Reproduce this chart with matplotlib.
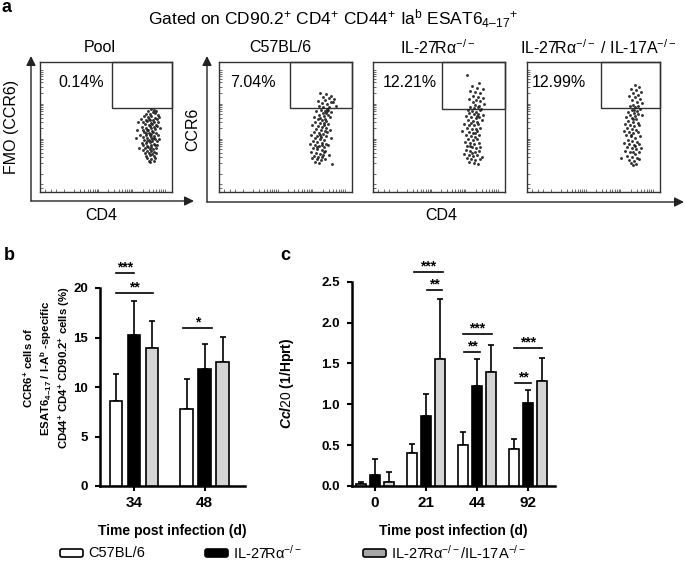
import numpy as np
import matplotlib
matplotlib.use("Agg")
import matplotlib.pyplot as plt
from matplotlib.patches import Rectangle, FancyBboxPatch

plt.rcParams['font.family'] = ['Liberation Sans', 'DejaVu Sans']
plt.rcParams['mathtext.fontset'] = 'custom'
plt.rcParams['mathtext.rm'] = 'Liberation Sans'
plt.rcParams['mathtext.it'] = 'Liberation Sans:italic:bold'
plt.rcParams['mathtext.bf'] = 'Liberation Sans:bold'
plt.rcParams['mathtext.default'] = 'regular'

# ---------------- data ----------------
strains = ['C57BL/6', 'IL-27Rα$^{-/-}$', 'IL-27Rα$^{-/-}$/IL-17A$^{-/-}$']

# panel a: flow plots (CD4 vs CCR6, arbitrary display units 0-100)
flow_titles = ['Pool', 'C57BL/6', 'IL-27Rα$^{-/-}$', 'IL-27Rα$^{-/-}$ / IL-17A$^{-/-}$']
flow_pct = ['0.14%', '7.04%', '12.21%', '12.99%']
gate_corner = [(54.5, 64.6), (53.4, 64.6), (52.3, 63.8), (55.6, 64.6)]

pool_events = [
    (84.2, 64.1), (86.5, 63.0), (82.1, 62.2), (85.3, 61.5), (88.0, 62.6), (80.4, 60.3), (83.6, 59.8),
    (86.9, 60.7), (89.2, 59.4), (78.8, 58.1), (81.5, 57.6), (84.4, 58.4), (87.3, 57.2), (90.1, 57.9),
    (76.3, 56.0), (80.2, 55.5), (82.9, 56.4), (85.6, 55.1), (88.4, 56.3), (74.1, 54.2), (78.1, 53.8),
    (81.3, 54.6), (84.0, 53.3), (86.2, 54.0), (89.3, 53.6), (79.3, 52.1), (82.4, 51.6), (85.1, 52.5),
    (87.6, 51.2), (83.3, 50.4), (77.2, 50.1), (80.0, 49.6), (83.8, 48.9), (86.4, 49.8), (88.7, 50.6),
    (91.0, 49.2), (78.4, 48.0), (81.1, 47.5), (84.6, 47.0), (87.2, 48.3), (73.2, 47.4), (79.0, 46.1),
    (82.2, 45.6), (85.4, 46.4), (88.1, 45.2), (84.0, 44.6), (76.1, 44.2), (80.3, 43.6), (83.1, 44.0),
    (86.0, 43.1), (89.2, 43.8), (78.2, 42.0), (81.4, 41.5), (84.3, 42.4), (87.0, 41.1), (85.2, 40.4),
    (72.4, 41.8), (79.1, 39.8), (82.3, 40.2), (85.0, 39.1), (88.3, 39.6), (90.2, 40.8), (77.3, 38.0),
    (80.1, 37.4), (83.2, 38.3), (86.4, 37.0), (84.1, 36.3), (78.0, 36.0), (81.2, 35.4), (84.4, 35.0),
    (87.1, 35.8), (89.0, 36.4), (75.2, 34.1), (79.2, 33.6), (82.0, 34.3), (85.3, 33.2), (88.2, 33.9),
    (78.1, 32.0), (81.0, 31.4), (84.2, 31.9), (86.1, 30.8), (79.3, 29.8), (82.2, 30.3), (85.1, 29.2),
    (88.0, 29.9), (80.1, 27.9), (83.0, 28.2), (86.2, 27.4), (81.2, 26.1), (84.0, 25.6), (87.1, 26.4),
    (82.3, 24.0), (86.0, 23.5), (83.5, 22.8), (80.5, 45.0), (83.0, 55.0), (82.0, 47.5), (86.5, 41.8),
    (80.8, 39.0), (83.6, 33.0),
]
wt_events = [
    (76.0, 76.5), (80.5, 75.2), (84.1, 74.0), (78.2, 73.1), (82.6, 72.4), (86.3, 71.6), (74.5, 70.3),
    (79.8, 70.8), (83.9, 69.5), (77.1, 68.2), (81.4, 67.6), (85.5, 68.9), (87.8, 66.4), (75.2, 66.0),
    (78.4, 65.3), (80.9, 64.2), (83.0, 65.7), (76.6, 63.4), (79.5, 62.6), (82.2, 63.0), (73.1, 62.1),
    (77.9, 61.0), (80.6, 60.4), (84.0, 61.5), (75.0, 59.5), (78.8, 58.7), (81.7, 59.1), (71.4, 58.0),
    (76.2, 57.2), (79.9, 56.5), (83.1, 57.4), (74.3, 55.8), (77.6, 55.0), (80.8, 54.4), (72.5, 53.6),
    (75.9, 52.8), (78.7, 53.1), (82.0, 52.0), (70.1, 51.2), (74.2, 50.6), (77.3, 50.0), (80.4, 49.4),
    (73.0, 48.5), (76.5, 47.8), (79.6, 47.1), (83.2, 48.0), (71.6, 46.2), (75.1, 45.5), (78.2, 44.8),
    (81.0, 45.9), (69.2, 44.0), (73.8, 43.4), (77.0, 42.6), (80.1, 43.0), (72.4, 41.5), (75.6, 40.8),
    (78.9, 40.2), (84.5, 41.2), (70.6, 39.4), (74.0, 38.6), (77.2, 38.0), (80.3, 37.3), (68.4, 36.8),
    (72.1, 36.1), (75.5, 35.4), (78.6, 34.8), (81.8, 35.9), (70.8, 33.6), (73.9, 33.0), (77.1, 32.3),
    (80.0, 31.6), (69.5, 31.0), (72.7, 30.2), (76.0, 29.6), (79.2, 30.5), (82.4, 28.8), (71.3, 28.0),
    (74.6, 27.3), (77.8, 26.6), (70.0, 25.8), (73.4, 25.1), (76.7, 24.4), (79.9, 25.6), (72.2, 23.2),
    (75.3, 22.5), (85.0, 21.8), (74.0, 34.5), (76.0, 44.0), (79.0, 51.5), (78.0, 28.5), (81.5, 62.0),
    (77.5, 36.5),
]
ko_events = [
    (71.0, 90.2), (80.5, 84.1), (75.2, 81.6), (78.9, 80.3), (83.0, 79.2), (73.8, 77.5), (77.6, 76.8),
    (81.4, 75.9), (76.0, 74.0), (79.8, 73.2), (83.6, 72.5), (72.6, 71.4), (78.1, 70.6), (81.2, 69.8),
    (75.4, 68.9), (84.1, 68.0), (77.3, 67.2), (80.0, 66.4), (73.5, 65.6), (76.4, 64.7), (79.3, 65.1),
    (82.0, 64.0), (71.8, 63.2), (75.0, 62.5), (78.2, 61.8), (81.1, 62.9), (73.1, 60.6), (76.8, 59.9),
    (79.6, 60.3), (83.0, 59.1), (70.5, 58.4), (74.2, 57.6), (77.7, 56.9), (80.6, 57.8), (72.3, 55.2),
    (75.6, 54.5), (78.8, 53.8), (82.2, 55.0), (69.0, 52.6), (73.0, 51.9), (76.3, 51.2), (79.5, 52.4),
    (71.4, 49.6), (74.8, 48.8), (78.0, 48.1), (81.3, 49.3), (67.5, 47.0), (72.6, 46.2), (75.9, 45.5),
    (79.1, 46.7), (70.2, 43.8), (73.9, 43.1), (77.2, 42.4), (80.5, 43.6), (72.0, 40.6), (75.4, 39.9),
    (78.6, 41.0), (69.8, 38.3), (73.3, 37.5), (76.7, 36.8), (80.0, 37.9), (71.5, 35.1), (74.8, 34.4),
    (78.0, 33.7), (81.4, 34.9), (70.1, 32.0), (73.6, 31.3), (76.9, 30.6), (80.2, 31.7), (68.9, 29.0),
    (72.4, 28.3), (75.7, 27.6), (79.0, 28.8), (82.5, 27.0), (71.0, 25.9), (74.3, 25.2), (77.6, 24.5),
    (80.8, 25.7), (72.9, 22.8), (76.2, 22.1), (79.4, 21.5), (74.5, 53.0), (77.0, 45.0), (75.0, 30.0),
    (78.5, 58.5), (73.5, 35.5),
]
dko_events = [
    (81.0, 82.0), (84.5, 80.6), (78.3, 79.4), (82.2, 78.1), (86.0, 77.3), (79.6, 75.8), (83.4, 74.9),
    (76.8, 73.6), (81.0, 72.7), (84.8, 71.8), (78.6, 70.5), (82.5, 69.6), (86.3, 68.4), (80.0, 67.3),
    (83.8, 66.5), (77.3, 65.8), (81.5, 65.0), (84.9, 64.1), (79.0, 63.3), (82.4, 62.5), (75.9, 61.7),
    (80.2, 60.8), (83.6, 60.0), (77.5, 59.1), (81.0, 58.3), (86.5, 59.5), (74.3, 57.4), (78.6, 56.6),
    (82.1, 55.8), (76.0, 54.9), (79.8, 54.1), (83.3, 53.3), (73.4, 52.4), (77.2, 51.6), (80.7, 50.8),
    (84.2, 51.9), (75.0, 49.2), (78.6, 48.4), (82.0, 47.6), (72.6, 46.8), (76.4, 45.9), (80.0, 45.1),
    (83.6, 46.3), (74.1, 43.5), (77.9, 42.7), (81.4, 41.9), (85.0, 43.0), (75.6, 40.3), (79.2, 39.5),
    (82.7, 38.6), (73.2, 37.8), (77.0, 37.0), (80.6, 36.1), (84.1, 37.3), (75.2, 34.5), (78.7, 33.7),
    (82.3, 32.9), (86.0, 34.0), (73.8, 31.2), (77.4, 30.4), (81.0, 29.6), (84.5, 30.8), (75.5, 28.0),
    (79.2, 27.2), (82.8, 26.4), (77.0, 25.0), (80.6, 24.2), (84.2, 25.4), (78.5, 22.6), (82.0, 21.8),
    (79.8, 20.5), (71.0, 26.0), (80.0, 56.0), (78.0, 44.0), (81.5, 35.5), (79.5, 31.0), (80.5, 63.0),
]

# panel b: % CCR6+ among ESAT6-specific CD4 T cells
b_days = ['34', '48']
b_wt = [8.6, 7.8]
b_wt_err = [2.7, 3.0]
b_ko = [15.3, 11.8]
b_ko_err = [3.4, 2.5]
b_dko = [13.9, 12.5]
b_dko_err = [2.8, 2.6]
b_sig = [(-0.255, 0.0, 21.5, '***'), (-0.255, 0.27, 19.5, '**'), (0.7, 1.1, 16.0, '*')]
b_ylabel = ['CCR6$^{+}$ cells of', 'ESAT6$_{4–17}$ / I-A$^{b}$ -specific',
            'CD44$^{+}$ CD4$^{+}$ CD90.2$^{+}$ cells (%)']

# panel c: Ccl20 expression
c_days = ['0', '21', '44', '92']
c_wt = [0.02, 0.40, 0.50, 0.45]
c_wt_err = [0.03, 0.12, 0.16, 0.13]
c_ko = [0.13, 0.86, 1.22, 1.01]
c_ko_err = [0.20, 0.26, 0.33, 0.17]
c_dko = [0.05, 1.56, 1.39, 1.28]
c_dko_err = [0.12, 0.73, 0.34, 0.29]
c_sig = [(0.765, 1.333, 2.62, '***'), (1.02, 1.31, 2.40, '**'),
         (1.725, 2.294, 1.86, '***'), (1.745, 2.06, 1.64, '**'),
         (2.725, 3.27, 1.69, '***'), (2.745, 3.06, 1.26, '**')]

bar_fill = ['white', 'black', '#d4d4d4']
legend_fill = ['white', 'black', '#a6a6a6']

# ---------------- figure ----------------
W, H = 685, 572
fig = plt.figure(figsize=(W / 100, H / 100), dpi=100)


def rect(x0, y0, x1, y1):
    # pixel box (top-left origin) -> figure fraction
    return [x0 / W, 1 - y1 / H, (x1 - x0) / W, (y1 - y0) / H]


# overlay in pixel units for free text, arrows and legend
ov = fig.add_axes([0, 0, 1, 1])
ov.set_xlim(0, W)
ov.set_ylim(H, 0)
ov.axis('off')

ov.text(2, 8, 'a', fontsize=13, fontweight='bold', va='center')
ov.text(333, 19, 'Gated on CD90.2$^{+}$ CD4$^{+}$ CD44$^{+}$ Ia$^{b}$ ESAT6$_{4–17}$$^{+}$',
        fontsize=12.5, ha='center', va='center')

flow_boxes = [(40, 62, 172, 192), (219, 62, 352, 192), (373, 62, 505, 192), (527, 62, 660, 192)]
title_x = [100, 280, 438, 598]
pct_x = [13.6, 8.3, 7.6, 3.8]
events = [pool_events, wt_events, ko_events, dko_events]

dec = np.log10(np.arange(1, 10))
flow_yt = np.concatenate([[3, 6], 14 + 27 * dec, 41 + 27 * dec, 68 + 27 * dec])
flow_xt = np.concatenate([[4, 8, 12], 18 + 26 * dec, 44 + 26 * dec, 70 + 26 * dec])

for i, bx in enumerate(flow_boxes):
    ax = fig.add_axes(rect(*bx))
    pts = np.array(events[i])
    ax.plot(pts[:, 0], pts[:, 1], 'o', ms=2.1, mew=0, color='#1e1e1e', alpha=0.9)
    gx, gy = gate_corner[i]
    ax.add_patch(Rectangle((gx, gy), 100 - gx, 100 - gy, fill=False, ec='#333333', lw=1.0, clip_on=False))
    ax.set_xlim(0, 100)
    ax.set_ylim(0, 100)
    ax.set_xticks(flow_xt)
    ax.set_yticks(flow_yt)
    ax.tick_params(direction='in', length=2.5, width=0.6, color='#555555',
                   labelbottom=False, labelleft=False)
    for s in ax.spines.values():
        s.set_color('#333333')
        s.set_linewidth(1.0)
    ax.text(pct_x[i], 84, flow_pct[i], fontsize=11.5, va='center')
    ov.text(title_x[i], 48, flow_titles[i], fontsize=11.5, ha='center', va='center')

arrow = dict(arrowstyle='-|>', color='#222222', lw=1.0, mutation_scale=14, shrinkA=0, shrinkB=0)
ov.annotate('', xy=(31, 56), xytext=(31, 201), arrowprops=arrow)
ov.annotate('', xy=(194, 201), xytext=(31, 201), arrowprops=arrow)
ov.annotate('', xy=(684, 202), xytext=(207, 202), arrowprops=arrow)
ov.annotate('', xy=(207, 56), xytext=(207, 202), arrowprops=arrow)
ov.text(12, 127, 'FMO (CCR6)', fontsize=11.5, rotation=90, ha='center', va='center')
ov.text(193, 129, 'CCR6', fontsize=11.5, rotation=90, ha='center', va='center')
ov.text(101, 216, 'CD4', fontsize=11.5, ha='center', va='center')
ov.text(441, 216, 'CD4', fontsize=11.5, ha='center', va='center')

# ---------------- bar panels ----------------


def bar_panel(ax, means, errs, width, offs, sig, labels, ymax, yticks, ytl):
    n = len(labels)
    for k in range(3):
        x = np.arange(n) + offs[k]
        ax.bar(x, means[k], width, color=bar_fill[k], edgecolor='black', linewidth=1.2, zorder=3)
        ax.errorbar(x, means[k], yerr=[np.zeros(n), errs[k]], fmt='none', ecolor='black',
                    elinewidth=1.2, capsize=2, capthick=1.2, zorder=2)
    for x0, x1, y, lab in sig:
        ax.plot([x0, x1], [y, y], color='black', lw=1.2, clip_on=False)
        ax.annotate(lab, ((x0 + x1) / 2, y), xytext=(0, 4), textcoords='offset points',
                    ha='center', va='center', fontsize=10, fontweight='bold', annotation_clip=False)
    ax.set_ylim(0, ymax)
    ax.set_yticks(yticks)
    ax.set_yticklabels(ytl, fontsize=9.5, fontweight='bold')
    ax.set_xticks(np.arange(n))
    ax.set_xticklabels(labels, fontsize=11, fontweight='bold')
    ax.spines[['top', 'right']].set_visible(False)
    ax.spines[['left', 'bottom']].set_linewidth(1.8)
    ax.tick_params(width=1.5, length=3.8, pad=3.5)
    ax.tick_params(axis='y', pad=4.8)
    ax.patch.set_alpha(0)


axb = fig.add_axes(rect(100, 288, 245, 486))
bar_panel(axb, [b_wt, b_ko, b_dko], [b_wt_err, b_ko_err, b_dko_err], 0.18, [-0.255, 0, 0.255],
          b_sig, b_days, 20, [0, 5, 10, 15, 20], ['0', '5', '10', '15', '20'])
axb.set_xlim(-0.482, 1.574)

axc = fig.add_axes(rect(352, 281.7, 555, 486))
bar_panel(axc, [c_wt, c_ko, c_dko], [c_wt_err, c_ko_err, c_dko_err], 0.196, [-0.2745, 0, 0.2745],
          c_sig, c_days, 2.5, [0, 0.5, 1.0, 1.5, 2.0, 2.5], ['0.0', '0.5', '1.0', '1.5', '2.0', '2.5'])
axc.set_xlim(-0.451, 3.53)

ov.text(4, 255, 'b', fontsize=13, fontweight='bold', va='center')
ov.text(280, 256, 'c', fontsize=13, fontweight='bold', va='center')
for line, lx in zip(b_ylabel, [28, 46, 64]):
    ov.text(lx, 368, line, fontsize=8.2, fontweight='bold', rotation=90, ha='center', va='center')
ov.text(287, 383, r'$\mathit{Ccl20}$ (1/Hprt)', fontsize=10, fontweight='bold',
        rotation=90, ha='center', va='center')
ov.text(172, 531, 'Time post infection (d)', fontsize=10, fontweight='bold', ha='center', va='center')
ov.text(453, 531, 'Time post infection (d)', fontsize=10, fontweight='bold', ha='center', va='center')

# legend
leg_x = [60, 205, 363]
for k in range(3):
    ov.add_patch(FancyBboxPatch((leg_x[k], 549), 23, 8, boxstyle='round,pad=0,rounding_size=2',
                                fc=legend_fill[k], ec='black', lw=1.2))
    ov.text(leg_x[k] + 28, 553, strains[k], fontsize=10.5, va='center')

fig.savefig('out.png', dpi=100)
